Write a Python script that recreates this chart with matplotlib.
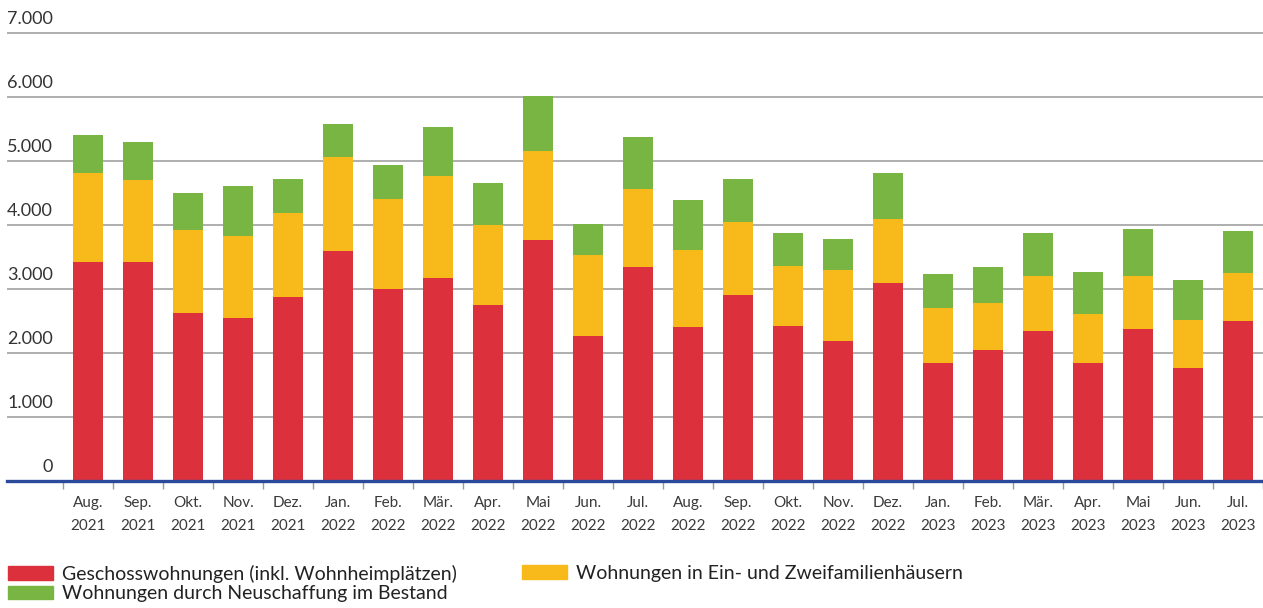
import matplotlib
matplotlib.use("Agg")
import matplotlib.pyplot as plt
import matplotlib.transforms as mtransforms
from matplotlib.patches import Patch
import numpy as np

monate = ["Aug.\n2021", "Sep.\n2021", "Okt.\n2021", "Nov.\n2021", "Dez.\n2021",
          "Jan.\n2022", "Feb.\n2022", "Mär.\n2022", "Apr.\n2022", "Mai\n2022",
          "Jun.\n2022", "Jul.\n2022", "Aug.\n2022", "Sep.\n2022", "Okt.\n2022",
          "Nov.\n2022", "Dez.\n2022", "Jan.\n2023", "Feb.\n2023", "Mär.\n2023",
          "Apr.\n2023", "Mai\n2023", "Jun.\n2023", "Jul.\n2023"]

geschoss = [3420, 3420, 2630, 2540, 2870, 3590, 3000, 3170, 2750, 3770, 2270, 3340,
            2400, 2900, 2420, 2190, 3100, 1840, 2040, 2340, 1840, 2380, 1760, 2500]
ein_zwei = [1400, 1280, 1290, 1290, 1320, 1470, 1400, 1600, 1250, 1390, 1260, 1220,
            1210, 1150, 940, 1100, 1000, 870, 740, 860, 770, 820, 760, 750]
bestand = [580, 600, 580, 780, 530, 520, 540, 760, 650, 850, 490, 820,
           780, 670, 520, 490, 710, 530, 560, 680, 660, 740, 620, 660]

y_ticks = [0, 1000, 2000, 3000, 4000, 5000, 6000, 7000]
y_labels = ["0", "1.000", "2.000", "3.000", "4.000", "5.000", "6.000", "7.000"]

ROT = "#dc313c"
GELB = "#f8b91a"
GRUEN = "#78b543"

plt.rcParams["font.family"] = ["Lato", "DejaVu Sans"]

fig = plt.figure(figsize=(12.63, 6.08), dpi=100)
W, H = 1263, 608
# Achse: links 7px, rechts bis zum Rand, Nulllinie bei y=481px
ax = fig.add_axes([7 / W, (H - 481) / H, 1 - 7 / W, (481 - 20.2) / H])

x = np.arange(len(monate))
breite = 0.6
ax.bar(x, geschoss, breite, color=ROT, zorder=2)
ax.bar(x, ein_zwei, breite, bottom=geschoss, color=GELB, zorder=2)
unten = np.array(geschoss) + np.array(ein_zwei)
ax.bar(x, bestand, breite, bottom=unten, color=GRUEN, zorder=2)

ax.set_xlim(-1.62, 23.5)
ax.set_ylim(0, 7200)

# Gitterlinien und Beschriftungen der y-Achse
for v in y_ticks[1:]:
    ax.axhline(v, color="#a8a8a8", lw=1.3, zorder=1)
trans = mtransforms.blended_transform_factory(ax.transAxes, ax.transData)
for v, lab in zip(y_ticks, y_labels):
    ax.annotate(lab, xy=((53 - 7) / (W - 7), v), xycoords=trans,
                xytext=(0, 4), textcoords="offset points",
                ha="right", va="bottom", fontsize=13, color="#333333")
ax.set_yticks([])

for s in ["top", "right", "left"]:
    ax.spines[s].set_visible(False)
ax.spines["bottom"].set_color("#2b4a9c")
ax.spines["bottom"].set_linewidth(2.4)
ax.spines["bottom"].set_zorder(5)

ax.set_xticks(x)
ax.set_xticklabels(monate, fontsize=11, color="#3a3a3a", linespacing=1.75)
ax.tick_params(axis="x", which="major", length=0, pad=11)
ax.set_xticks(np.arange(-0.5, 23.6, 1), minor=True)
ax.tick_params(axis="x", which="minor", length=6, width=1, color="#9a9a9a")

leg_kw = dict(frameon=False, fontsize=14, handlelength=2.3, handleheight=0.7,
              handletextpad=0.5, labelspacing=0.12, borderpad=0, borderaxespad=0)
l1 = fig.legend(handles=[Patch(color=ROT, label="Geschosswohnungen (inkl. Wohnheimplätzen)"),
                         Patch(color=GRUEN, label="Wohnungen durch Neuschaffung im Bestand")],
                loc="upper left", bbox_to_anchor=(8 / W, 1 - 565 / H), **leg_kw)
l2 = fig.legend(handles=[Patch(color=GELB, label="Wohnungen in Ein- und Zweifamilienhäusern")],
                loc="upper left", bbox_to_anchor=(522 / W, 1 - 565 / H), **leg_kw)
for leg in (l1, l2):
    for t in leg.get_texts():
        t.set_color("#222222")

fig.savefig("out.png", dpi=100)
